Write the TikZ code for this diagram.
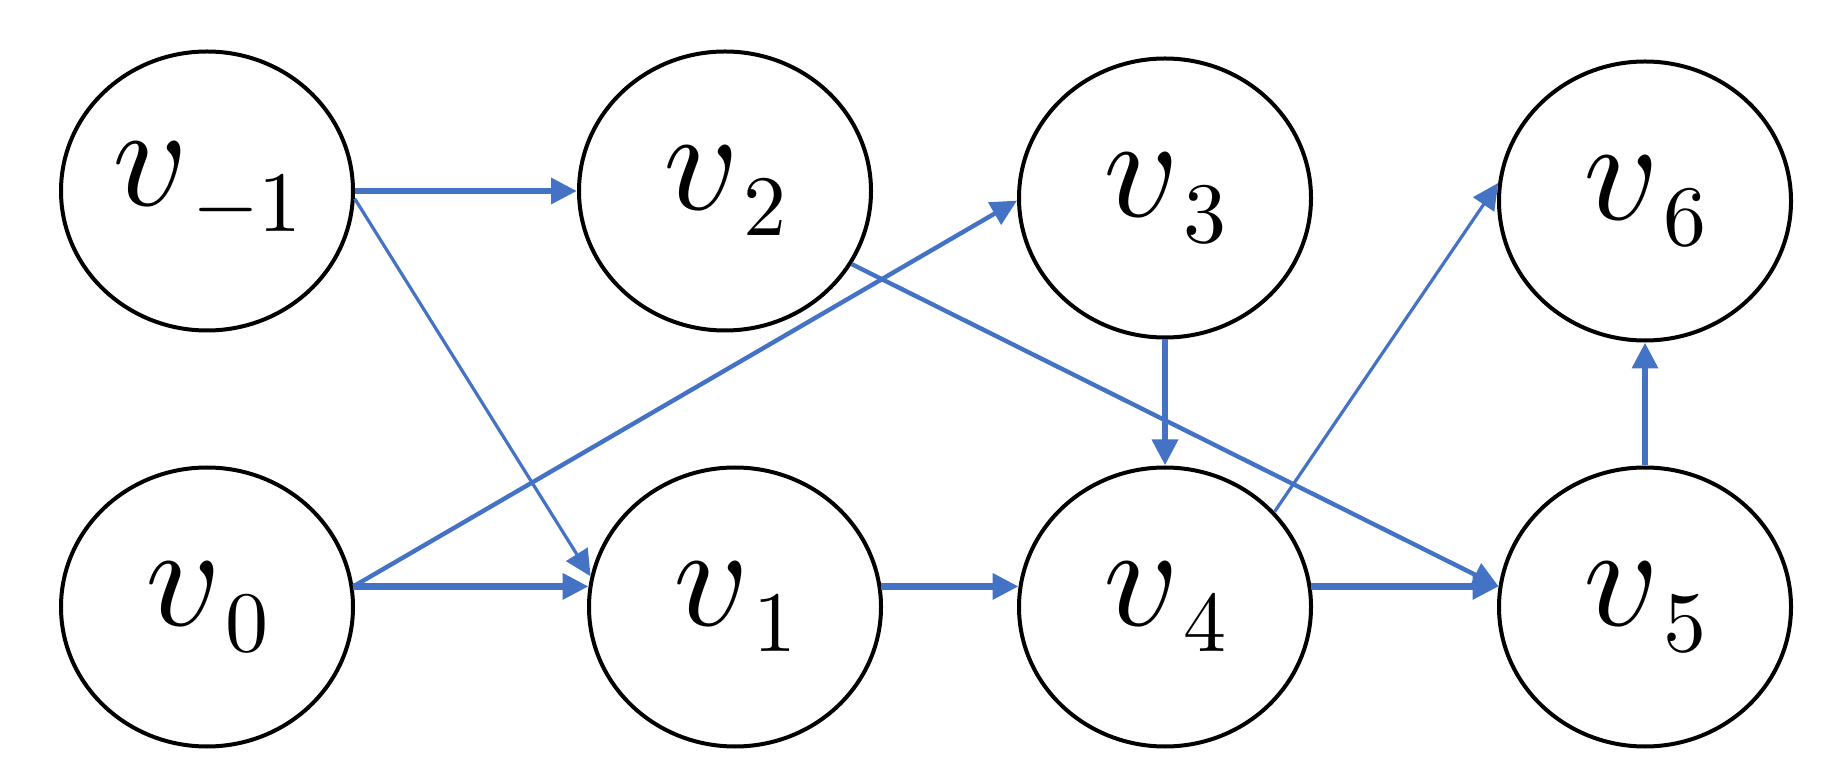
\documentclass[tikz,border=0pt]{standalone}
\usetikzlibrary{shapes.geometric,arrows.meta}
\DeclareFontShape{OML}{cmm}{m}{it}{<-> cmmi10}{}
\DeclareFontShape{OT1}{cmr}{m}{n}{<-> cmr10}{}
\DeclareFontShape{OMS}{cmsy}{m}{n}{<-> cmsy10}{}
\definecolor{edgeblue}{RGB}{68,114,196}
\newcommand\vsub[1]{$v$\kern2pt\lower13pt\hbox{\fontsize{43}{50}\selectfont$#1$}}
\tikzset{
  vnode/.style={draw=black, line width=2pt, ellipse, minimum width=146pt, minimum height=139.5pt, inner sep=0pt, font=\fontsize{73}{80}\selectfont},
  edge/.style={draw=edgeblue, -{Triangle[length=13pt,width=12.5pt]}},
  thickedge/.style={edge, line width=3.2pt},
  midedge/.style={edge, line width=2.2pt},
  thinedge/.style={edge, line width=1.6pt}
}
\begin{document}
\begin{tikzpicture}[x=0.5pt,y=-0.5pt]
\useasboundingbox (0,0) rectangle (1825,769);
\node[vnode] (vm1) at (207,191) {\vsub{-1}};
\node[vnode] (v2) at (725,191) {\vsub{2}};
\node[vnode] (v3) at (1165,198) {\vsub{3}};
\node[vnode] (v6) at (1645,201) {\vsub{6}};
\node[vnode] (v0) at (207,607) {\vsub{0}};
\node[vnode] (v1) at (735,607) {\vsub{1}};
\node[vnode] (v4) at (1165,607) {\vsub{4}};
\node[vnode] (v5) at (1645,607) {\vsub{5}};
\draw[thickedge] (vm1.east) -- (v2.west);
\draw[thinedge] (vm1.-3) -- (v1.168);
\draw[thickedge] (v0.8) -- (v1.172);
\draw[midedge] (v0.8) -- (v3.181);
\draw[thickedge] (v1.8) -- (v4.172);
\draw[midedge] (v2.-30) -- (v5.172);
\draw[thickedge] (v3.south) -- (v4.north);
\draw[thinedge] (v4.41) -- (v6.173);
\draw[thickedge] (v4.8) -- (v5.172);
\draw[thickedge] (v5.north) -- (v6.south);
\end{tikzpicture}
\end{document}
